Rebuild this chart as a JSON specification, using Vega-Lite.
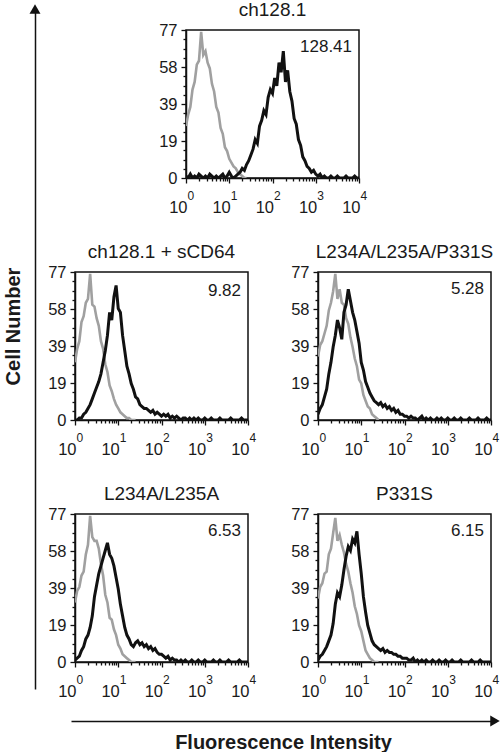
{
"$schema": "https://vega.github.io/schema/vega-lite/v6.json",
"background": "white",
"padding": {"left": 3, "top": 0, "right": 0, "bottom": 0},
"config": {
  "font": "Liberation Sans",
  "view": {"stroke": null},
  "axis": {"domainColor": "#111", "domainWidth": 1.5, "tickColor": "#111", "tickWidth": 1.3, "labelColor": "#1a1a1a", "labelFont": "Liberation Sans", "labelFontSize": 16.5, "grid": false, "titleColor": "#1a1a1a", "titleFont": "Liberation Sans"},
  "title": {"fontSize": 19, "fontWeight": "normal", "color": "#1a1a1a", "offset": 2, "font": "Liberation Sans"},
  "text": {"font": "Liberation Sans", "fontSize": 17, "color": "#1a1a1a"}
},
"datasets": {
"h": [
{"p":"A","s":"g","x":1,"y":27},{"p":"A","s":"g","x":1.122,"y":33},{"p":"A","s":"g","x":1.259,"y":37},{"p":"A","s":"g","x":1.413,"y":46},{"p":"A","s":"g","x":1.585,"y":50},{"p":"A","s":"g","x":1.778,"y":59},{"p":"A","s":"g","x":1.995,"y":61},{"p":"A","s":"g","x":2.239,"y":76},{"p":"A","s":"g","x":2.512,"y":64},{"p":"A","s":"g","x":2.818,"y":66},{"p":"A","s":"g","x":3.162,"y":60},{"p":"A","s":"g","x":3.548,"y":57},{"p":"A","s":"g","x":3.981,"y":49},{"p":"A","s":"g","x":4.467,"y":45},{"p":"A","s":"g","x":5.012,"y":37},{"p":"A","s":"g","x":5.623,"y":34},{"p":"A","s":"g","x":6.31,"y":26},{"p":"A","s":"g","x":7.079,"y":23},{"p":"A","s":"g","x":7.943,"y":16},{"p":"A","s":"g","x":8.913,"y":14},{"p":"A","s":"g","x":10,"y":10},{"p":"A","s":"g","x":11.22,"y":8},{"p":"A","s":"g","x":12.59,"y":6},{"p":"A","s":"g","x":14.13,"y":5},{"p":"A","s":"g","x":15.85,"y":3},{"p":"A","s":"g","x":17.78,"y":2},{"p":"A","s":"g","x":19.95,"y":1},{"p":"A","s":"g","x":22.39,"y":0},{"p":"A","s":"g","x":25.12,"y":0},
{"p":"A","s":"k","x":1,"y":1},{"p":"A","s":"k","x":1.122,"y":0},{"p":"A","s":"k","x":1.259,"y":2},{"p":"A","s":"k","x":1.413,"y":0},{"p":"A","s":"k","x":1.585,"y":1},{"p":"A","s":"k","x":1.778,"y":0},{"p":"A","s":"k","x":1.995,"y":2},{"p":"A","s":"k","x":2.239,"y":1},{"p":"A","s":"k","x":2.512,"y":0},{"p":"A","s":"k","x":2.818,"y":1},{"p":"A","s":"k","x":3.162,"y":0},{"p":"A","s":"k","x":3.548,"y":2},{"p":"A","s":"k","x":3.981,"y":1},{"p":"A","s":"k","x":4.467,"y":0},{"p":"A","s":"k","x":5.012,"y":1},{"p":"A","s":"k","x":5.623,"y":0},{"p":"A","s":"k","x":6.31,"y":1},{"p":"A","s":"k","x":7.079,"y":2},{"p":"A","s":"k","x":7.943,"y":0},{"p":"A","s":"k","x":8.913,"y":1},
{"p":"A","s":"k","x":10,"y":3},{"p":"A","s":"k","x":11.22,"y":1},{"p":"A","s":"k","x":12.59,"y":0},{"p":"A","s":"k","x":14.13,"y":1},{"p":"A","s":"k","x":15.85,"y":2},{"p":"A","s":"k","x":17.78,"y":3},{"p":"A","s":"k","x":19.95,"y":5},{"p":"A","s":"k","x":22.39,"y":4},{"p":"A","s":"k","x":25.12,"y":7},{"p":"A","s":"k","x":28.18,"y":9},{"p":"A","s":"k","x":31.62,"y":12},{"p":"A","s":"k","x":35.48,"y":15},{"p":"A","s":"k","x":39.81,"y":20},{"p":"A","s":"k","x":44.67,"y":18},{"p":"A","s":"k","x":50.12,"y":27},{"p":"A","s":"k","x":56.23,"y":30},{"p":"A","s":"k","x":63.1,"y":35},{"p":"A","s":"k","x":70.79,"y":33},{"p":"A","s":"k","x":79.43,"y":42},{"p":"A","s":"k","x":89.13,"y":46},
{"p":"A","s":"k","x":100,"y":44},{"p":"A","s":"k","x":112.2,"y":52},{"p":"A","s":"k","x":125.9,"y":48},{"p":"A","s":"k","x":141.3,"y":60},{"p":"A","s":"k","x":158.5,"y":55},{"p":"A","s":"k","x":177.8,"y":66},{"p":"A","s":"k","x":199.5,"y":50},{"p":"A","s":"k","x":223.9,"y":56},{"p":"A","s":"k","x":251.2,"y":45},{"p":"A","s":"k","x":281.8,"y":40},{"p":"A","s":"k","x":316.2,"y":31},{"p":"A","s":"k","x":354.8,"y":28},{"p":"A","s":"k","x":398.1,"y":20},{"p":"A","s":"k","x":446.7,"y":17},{"p":"A","s":"k","x":501.2,"y":11},{"p":"A","s":"k","x":562.3,"y":9},{"p":"A","s":"k","x":631,"y":6},{"p":"A","s":"k","x":707.9,"y":5},{"p":"A","s":"k","x":794.3,"y":3},{"p":"A","s":"k","x":891.3,"y":4},
{"p":"A","s":"k","x":1000,"y":2},{"p":"A","s":"k","x":1122,"y":1},{"p":"A","s":"k","x":1259,"y":2},{"p":"A","s":"k","x":1413,"y":0},{"p":"A","s":"k","x":1585,"y":1},{"p":"A","s":"k","x":1778,"y":0},{"p":"A","s":"k","x":1995,"y":0},{"p":"A","s":"k","x":2239,"y":1},{"p":"A","s":"k","x":2512,"y":0},{"p":"A","s":"k","x":2818,"y":0},{"p":"A","s":"k","x":3162,"y":1},{"p":"A","s":"k","x":3548,"y":0},{"p":"A","s":"k","x":3981,"y":0},{"p":"A","s":"k","x":4467,"y":0},{"p":"A","s":"k","x":5012,"y":1},{"p":"A","s":"k","x":5623,"y":0},{"p":"A","s":"k","x":6310,"y":0},{"p":"A","s":"k","x":7079,"y":0},{"p":"A","s":"k","x":7943,"y":1},{"p":"A","s":"k","x":8913,"y":0},{"p":"A","s":"k","x":10000,"y":0},

{"p":"B","s":"g","x":1,"y":30},{"p":"B","s":"g","x":1.122,"y":37},{"p":"B","s":"g","x":1.259,"y":41},{"p":"B","s":"g","x":1.413,"y":51},{"p":"B","s":"g","x":1.585,"y":54},{"p":"B","s":"g","x":1.778,"y":61},{"p":"B","s":"g","x":1.995,"y":63},{"p":"B","s":"g","x":2.239,"y":76},{"p":"B","s":"g","x":2.512,"y":60},{"p":"B","s":"g","x":2.818,"y":59},{"p":"B","s":"g","x":3.162,"y":53},{"p":"B","s":"g","x":3.548,"y":49},{"p":"B","s":"g","x":3.981,"y":41},{"p":"B","s":"g","x":4.467,"y":37},{"p":"B","s":"g","x":5.012,"y":29},{"p":"B","s":"g","x":5.623,"y":25},{"p":"B","s":"g","x":6.31,"y":18},{"p":"B","s":"g","x":7.079,"y":15},{"p":"B","s":"g","x":7.943,"y":11},{"p":"B","s":"g","x":8.913,"y":8},{"p":"B","s":"g","x":10,"y":6},{"p":"B","s":"g","x":11.22,"y":4},{"p":"B","s":"g","x":12.59,"y":3},{"p":"B","s":"g","x":14.13,"y":2},{"p":"B","s":"g","x":15.85,"y":1},{"p":"B","s":"g","x":17.78,"y":1},{"p":"B","s":"g","x":19.95,"y":0},{"p":"B","s":"g","x":22.39,"y":0},{"p":"B","s":"g","x":25.12,"y":0},
{"p":"B","s":"k","x":1,"y":0},{"p":"B","s":"k","x":1.122,"y":0},{"p":"B","s":"k","x":1.259,"y":1},{"p":"B","s":"k","x":1.413,"y":1},{"p":"B","s":"k","x":1.585,"y":3},{"p":"B","s":"k","x":1.778,"y":4},{"p":"B","s":"k","x":1.995,"y":6},{"p":"B","s":"k","x":2.239,"y":8},{"p":"B","s":"k","x":2.512,"y":11},{"p":"B","s":"k","x":2.818,"y":14},{"p":"B","s":"k","x":3.162,"y":17},{"p":"B","s":"k","x":3.548,"y":20},{"p":"B","s":"k","x":3.981,"y":24},{"p":"B","s":"k","x":4.467,"y":30},{"p":"B","s":"k","x":5.012,"y":36},{"p":"B","s":"k","x":5.623,"y":44},{"p":"B","s":"k","x":6.31,"y":56},{"p":"B","s":"k","x":7.079,"y":52},{"p":"B","s":"k","x":7.943,"y":64},{"p":"B","s":"k","x":8.913,"y":70},
{"p":"B","s":"k","x":10,"y":58},{"p":"B","s":"k","x":11.22,"y":56},{"p":"B","s":"k","x":12.59,"y":44},{"p":"B","s":"k","x":14.13,"y":36},{"p":"B","s":"k","x":15.85,"y":28},{"p":"B","s":"k","x":17.78,"y":24},{"p":"B","s":"k","x":19.95,"y":19},{"p":"B","s":"k","x":22.39,"y":16},{"p":"B","s":"k","x":25.12,"y":12},{"p":"B","s":"k","x":28.18,"y":11},{"p":"B","s":"k","x":31.62,"y":8},{"p":"B","s":"k","x":35.48,"y":7},{"p":"B","s":"k","x":39.81,"y":6},{"p":"B","s":"k","x":44.67,"y":6},{"p":"B","s":"k","x":50.12,"y":5},{"p":"B","s":"k","x":56.23,"y":4},{"p":"B","s":"k","x":63.1,"y":5},{"p":"B","s":"k","x":70.79,"y":3},{"p":"B","s":"k","x":79.43,"y":4},{"p":"B","s":"k","x":89.13,"y":3},
{"p":"B","s":"k","x":100,"y":2},{"p":"B","s":"k","x":112.2,"y":3},{"p":"B","s":"k","x":125.9,"y":2},{"p":"B","s":"k","x":141.3,"y":3},{"p":"B","s":"k","x":158.5,"y":1},{"p":"B","s":"k","x":177.8,"y":2},{"p":"B","s":"k","x":199.5,"y":1},{"p":"B","s":"k","x":223.9,"y":2},{"p":"B","s":"k","x":251.2,"y":1},{"p":"B","s":"k","x":281.8,"y":0},{"p":"B","s":"k","x":316.2,"y":1},{"p":"B","s":"k","x":354.8,"y":1},{"p":"B","s":"k","x":398.1,"y":0},{"p":"B","s":"k","x":446.7,"y":1},{"p":"B","s":"k","x":501.2,"y":0},{"p":"B","s":"k","x":562.3,"y":1},{"p":"B","s":"k","x":631,"y":0},{"p":"B","s":"k","x":707.9,"y":1},{"p":"B","s":"k","x":794.3,"y":0},{"p":"B","s":"k","x":891.3,"y":0},
{"p":"B","s":"k","x":1000,"y":1},{"p":"B","s":"k","x":1122,"y":0},{"p":"B","s":"k","x":1259,"y":0},{"p":"B","s":"k","x":1413,"y":1},{"p":"B","s":"k","x":1585,"y":0},{"p":"B","s":"k","x":1778,"y":0},{"p":"B","s":"k","x":1995,"y":0},{"p":"B","s":"k","x":2239,"y":1},{"p":"B","s":"k","x":2512,"y":0},{"p":"B","s":"k","x":2818,"y":0},{"p":"B","s":"k","x":3162,"y":0},{"p":"B","s":"k","x":3548,"y":0},{"p":"B","s":"k","x":3981,"y":1},{"p":"B","s":"k","x":4467,"y":0},{"p":"B","s":"k","x":5012,"y":0},{"p":"B","s":"k","x":5623,"y":0},{"p":"B","s":"k","x":6310,"y":0},{"p":"B","s":"k","x":7079,"y":1},{"p":"B","s":"k","x":7943,"y":0},{"p":"B","s":"k","x":8913,"y":0},{"p":"B","s":"k","x":10000,"y":0},

{"p":"C","s":"g","x":1,"y":33},{"p":"C","s":"g","x":1.122,"y":39},{"p":"C","s":"g","x":1.259,"y":41},{"p":"C","s":"g","x":1.413,"y":45},{"p":"C","s":"g","x":1.585,"y":49},{"p":"C","s":"g","x":1.778,"y":57},{"p":"C","s":"g","x":1.995,"y":61},{"p":"C","s":"g","x":2.239,"y":67},{"p":"C","s":"g","x":2.512,"y":76},{"p":"C","s":"g","x":2.818,"y":63},{"p":"C","s":"g","x":3.162,"y":68},{"p":"C","s":"g","x":3.548,"y":61},{"p":"C","s":"g","x":3.981,"y":60},{"p":"C","s":"g","x":4.467,"y":53},{"p":"C","s":"g","x":5.012,"y":50},{"p":"C","s":"g","x":5.623,"y":43},{"p":"C","s":"g","x":6.31,"y":38},{"p":"C","s":"g","x":7.079,"y":32},{"p":"C","s":"g","x":7.943,"y":28},{"p":"C","s":"g","x":8.913,"y":21},{"p":"C","s":"g","x":10,"y":19},{"p":"C","s":"g","x":11.22,"y":13},{"p":"C","s":"g","x":12.59,"y":10},{"p":"C","s":"g","x":14.13,"y":7},{"p":"C","s":"g","x":15.85,"y":6},{"p":"C","s":"g","x":17.78,"y":3},{"p":"C","s":"g","x":19.95,"y":2},{"p":"C","s":"g","x":22.39,"y":1},{"p":"C","s":"g","x":25.12,"y":0},
{"p":"C","s":"k","x":1,"y":3},{"p":"C","s":"k","x":1.122,"y":6},{"p":"C","s":"k","x":1.259,"y":8},{"p":"C","s":"k","x":1.413,"y":12},{"p":"C","s":"k","x":1.585,"y":16},{"p":"C","s":"k","x":1.778,"y":24},{"p":"C","s":"k","x":1.995,"y":30},{"p":"C","s":"k","x":2.239,"y":38},{"p":"C","s":"k","x":2.512,"y":44},{"p":"C","s":"k","x":2.818,"y":52},{"p":"C","s":"k","x":3.162,"y":48},{"p":"C","s":"k","x":3.548,"y":42},{"p":"C","s":"k","x":3.981,"y":56},{"p":"C","s":"k","x":4.467,"y":60},{"p":"C","s":"k","x":5.012,"y":68},{"p":"C","s":"k","x":5.623,"y":62},{"p":"C","s":"k","x":6.31,"y":56},{"p":"C","s":"k","x":7.079,"y":52},{"p":"C","s":"k","x":7.943,"y":46},{"p":"C","s":"k","x":8.913,"y":40},
{"p":"C","s":"k","x":10,"y":30},{"p":"C","s":"k","x":11.22,"y":26},{"p":"C","s":"k","x":12.59,"y":20},{"p":"C","s":"k","x":14.13,"y":17},{"p":"C","s":"k","x":15.85,"y":14},{"p":"C","s":"k","x":17.78,"y":12},{"p":"C","s":"k","x":19.95,"y":10},{"p":"C","s":"k","x":22.39,"y":9},{"p":"C","s":"k","x":25.12,"y":8},{"p":"C","s":"k","x":28.18,"y":9},{"p":"C","s":"k","x":31.62,"y":7},{"p":"C","s":"k","x":35.48,"y":8},{"p":"C","s":"k","x":39.81,"y":6},{"p":"C","s":"k","x":44.67,"y":7},{"p":"C","s":"k","x":50.12,"y":5},{"p":"C","s":"k","x":56.23,"y":6},{"p":"C","s":"k","x":63.1,"y":4},{"p":"C","s":"k","x":70.79,"y":5},{"p":"C","s":"k","x":79.43,"y":3},{"p":"C","s":"k","x":89.13,"y":3},
{"p":"C","s":"k","x":100,"y":2},{"p":"C","s":"k","x":112.2,"y":2},{"p":"C","s":"k","x":125.9,"y":1},{"p":"C","s":"k","x":141.3,"y":2},{"p":"C","s":"k","x":158.5,"y":1},{"p":"C","s":"k","x":177.8,"y":1},{"p":"C","s":"k","x":199.5,"y":0},{"p":"C","s":"k","x":223.9,"y":1},{"p":"C","s":"k","x":251.2,"y":2},{"p":"C","s":"k","x":281.8,"y":0},{"p":"C","s":"k","x":316.2,"y":1},{"p":"C","s":"k","x":354.8,"y":0},{"p":"C","s":"k","x":398.1,"y":1},{"p":"C","s":"k","x":446.7,"y":0},{"p":"C","s":"k","x":501.2,"y":0},{"p":"C","s":"k","x":562.3,"y":1},{"p":"C","s":"k","x":631,"y":0},{"p":"C","s":"k","x":707.9,"y":1},{"p":"C","s":"k","x":794.3,"y":0},{"p":"C","s":"k","x":891.3,"y":0},
{"p":"C","s":"k","x":1000,"y":1},{"p":"C","s":"k","x":1122,"y":0},{"p":"C","s":"k","x":1259,"y":0},{"p":"C","s":"k","x":1413,"y":1},{"p":"C","s":"k","x":1585,"y":0},{"p":"C","s":"k","x":1778,"y":0},{"p":"C","s":"k","x":1995,"y":1},{"p":"C","s":"k","x":2239,"y":0},{"p":"C","s":"k","x":2512,"y":0},{"p":"C","s":"k","x":2818,"y":0},{"p":"C","s":"k","x":3162,"y":1},{"p":"C","s":"k","x":3548,"y":0},{"p":"C","s":"k","x":3981,"y":0},{"p":"C","s":"k","x":4467,"y":0},{"p":"C","s":"k","x":5012,"y":1},{"p":"C","s":"k","x":5623,"y":0},{"p":"C","s":"k","x":6310,"y":0},{"p":"C","s":"k","x":7079,"y":0},{"p":"C","s":"k","x":7943,"y":1},{"p":"C","s":"k","x":8913,"y":0},{"p":"C","s":"k","x":10000,"y":0},

{"p":"D","s":"g","x":1,"y":31},{"p":"D","s":"g","x":1.122,"y":37},{"p":"D","s":"g","x":1.259,"y":39},{"p":"D","s":"g","x":1.413,"y":45},{"p":"D","s":"g","x":1.585,"y":47},{"p":"D","s":"g","x":1.778,"y":56},{"p":"D","s":"g","x":1.995,"y":61},{"p":"D","s":"g","x":2.239,"y":76},{"p":"D","s":"g","x":2.512,"y":65},{"p":"D","s":"g","x":2.818,"y":63},{"p":"D","s":"g","x":3.162,"y":63},{"p":"D","s":"g","x":3.548,"y":59},{"p":"D","s":"g","x":3.981,"y":51},{"p":"D","s":"g","x":4.467,"y":45},{"p":"D","s":"g","x":5.012,"y":35},{"p":"D","s":"g","x":5.623,"y":31},{"p":"D","s":"g","x":6.31,"y":23},{"p":"D","s":"g","x":7.079,"y":22},{"p":"D","s":"g","x":7.943,"y":17},{"p":"D","s":"g","x":8.913,"y":14},{"p":"D","s":"g","x":10,"y":9},{"p":"D","s":"g","x":11.22,"y":7},{"p":"D","s":"g","x":12.59,"y":4},{"p":"D","s":"g","x":14.13,"y":3},{"p":"D","s":"g","x":15.85,"y":2},{"p":"D","s":"g","x":17.78,"y":1},{"p":"D","s":"g","x":19.95,"y":0},{"p":"D","s":"g","x":22.39,"y":0},{"p":"D","s":"g","x":25.12,"y":0},
{"p":"D","s":"k","x":1,"y":1},{"p":"D","s":"k","x":1.122,"y":2},{"p":"D","s":"k","x":1.259,"y":3},{"p":"D","s":"k","x":1.413,"y":6},{"p":"D","s":"k","x":1.585,"y":8},{"p":"D","s":"k","x":1.778,"y":12},{"p":"D","s":"k","x":1.995,"y":14},{"p":"D","s":"k","x":2.239,"y":18},{"p":"D","s":"k","x":2.512,"y":24},{"p":"D","s":"k","x":2.818,"y":34},{"p":"D","s":"k","x":3.162,"y":40},{"p":"D","s":"k","x":3.548,"y":46},{"p":"D","s":"k","x":3.981,"y":50},{"p":"D","s":"k","x":4.467,"y":54},{"p":"D","s":"k","x":5.012,"y":58},{"p":"D","s":"k","x":5.623,"y":62},{"p":"D","s":"k","x":6.31,"y":56},{"p":"D","s":"k","x":7.079,"y":54},{"p":"D","s":"k","x":7.943,"y":50},{"p":"D","s":"k","x":8.913,"y":44},
{"p":"D","s":"k","x":10,"y":38},{"p":"D","s":"k","x":11.22,"y":30},{"p":"D","s":"k","x":12.59,"y":24},{"p":"D","s":"k","x":14.13,"y":18},{"p":"D","s":"k","x":15.85,"y":14},{"p":"D","s":"k","x":17.78,"y":12},{"p":"D","s":"k","x":19.95,"y":9},{"p":"D","s":"k","x":22.39,"y":8},{"p":"D","s":"k","x":25.12,"y":10},{"p":"D","s":"k","x":28.18,"y":11},{"p":"D","s":"k","x":31.62,"y":9},{"p":"D","s":"k","x":35.48,"y":10},{"p":"D","s":"k","x":39.81,"y":8},{"p":"D","s":"k","x":44.67,"y":9},{"p":"D","s":"k","x":50.12,"y":7},{"p":"D","s":"k","x":56.23,"y":8},{"p":"D","s":"k","x":63.1,"y":6},{"p":"D","s":"k","x":70.79,"y":7},{"p":"D","s":"k","x":79.43,"y":5},{"p":"D","s":"k","x":89.13,"y":4},
{"p":"D","s":"k","x":100,"y":4},{"p":"D","s":"k","x":112.2,"y":3},{"p":"D","s":"k","x":125.9,"y":2},{"p":"D","s":"k","x":141.3,"y":3},{"p":"D","s":"k","x":158.5,"y":1},{"p":"D","s":"k","x":177.8,"y":2},{"p":"D","s":"k","x":199.5,"y":1},{"p":"D","s":"k","x":223.9,"y":1},{"p":"D","s":"k","x":251.2,"y":0},{"p":"D","s":"k","x":281.8,"y":1},{"p":"D","s":"k","x":316.2,"y":0},{"p":"D","s":"k","x":354.8,"y":1},{"p":"D","s":"k","x":398.1,"y":0},{"p":"D","s":"k","x":446.7,"y":0},{"p":"D","s":"k","x":501.2,"y":1},{"p":"D","s":"k","x":562.3,"y":0},{"p":"D","s":"k","x":631,"y":0},{"p":"D","s":"k","x":707.9,"y":1},{"p":"D","s":"k","x":794.3,"y":0},{"p":"D","s":"k","x":891.3,"y":0},
{"p":"D","s":"k","x":1000,"y":1},{"p":"D","s":"k","x":1122,"y":0},{"p":"D","s":"k","x":1259,"y":0},{"p":"D","s":"k","x":1413,"y":0},{"p":"D","s":"k","x":1585,"y":1},{"p":"D","s":"k","x":1778,"y":0},{"p":"D","s":"k","x":1995,"y":0},{"p":"D","s":"k","x":2239,"y":1},{"p":"D","s":"k","x":2512,"y":0},{"p":"D","s":"k","x":2818,"y":0},{"p":"D","s":"k","x":3162,"y":0},{"p":"D","s":"k","x":3548,"y":1},{"p":"D","s":"k","x":3981,"y":0},{"p":"D","s":"k","x":4467,"y":0},{"p":"D","s":"k","x":5012,"y":0},{"p":"D","s":"k","x":5623,"y":0},{"p":"D","s":"k","x":6310,"y":1},{"p":"D","s":"k","x":7079,"y":0},{"p":"D","s":"k","x":7943,"y":0},{"p":"D","s":"k","x":8913,"y":0},{"p":"D","s":"k","x":10000,"y":0},

{"p":"E","s":"g","x":1,"y":33},{"p":"E","s":"g","x":1.122,"y":39},{"p":"E","s":"g","x":1.259,"y":41},{"p":"E","s":"g","x":1.413,"y":46},{"p":"E","s":"g","x":1.585,"y":47},{"p":"E","s":"g","x":1.778,"y":56},{"p":"E","s":"g","x":1.995,"y":59},{"p":"E","s":"g","x":2.239,"y":67},{"p":"E","s":"g","x":2.512,"y":75},{"p":"E","s":"g","x":2.818,"y":63},{"p":"E","s":"g","x":3.162,"y":66},{"p":"E","s":"g","x":3.548,"y":61},{"p":"E","s":"g","x":3.981,"y":57},{"p":"E","s":"g","x":4.467,"y":51},{"p":"E","s":"g","x":5.012,"y":47},{"p":"E","s":"g","x":5.623,"y":41},{"p":"E","s":"g","x":6.31,"y":36},{"p":"E","s":"g","x":7.079,"y":29},{"p":"E","s":"g","x":7.943,"y":25},{"p":"E","s":"g","x":8.913,"y":19},{"p":"E","s":"g","x":10,"y":16},{"p":"E","s":"g","x":11.22,"y":11},{"p":"E","s":"g","x":12.59,"y":6},{"p":"E","s":"g","x":14.13,"y":4},{"p":"E","s":"g","x":15.85,"y":2},{"p":"E","s":"g","x":17.78,"y":1},{"p":"E","s":"g","x":19.95,"y":0},{"p":"E","s":"g","x":22.39,"y":0},{"p":"E","s":"g","x":25.12,"y":0},
{"p":"E","s":"k","x":1,"y":1},{"p":"E","s":"k","x":1.122,"y":3},{"p":"E","s":"k","x":1.259,"y":4},{"p":"E","s":"k","x":1.413,"y":6},{"p":"E","s":"k","x":1.585,"y":8},{"p":"E","s":"k","x":1.778,"y":11},{"p":"E","s":"k","x":1.995,"y":14},{"p":"E","s":"k","x":2.239,"y":20},{"p":"E","s":"k","x":2.512,"y":30},{"p":"E","s":"k","x":2.818,"y":36},{"p":"E","s":"k","x":3.162,"y":34},{"p":"E","s":"k","x":3.548,"y":40},{"p":"E","s":"k","x":3.981,"y":48},{"p":"E","s":"k","x":4.467,"y":55},{"p":"E","s":"k","x":5.012,"y":60},{"p":"E","s":"k","x":5.623,"y":58},{"p":"E","s":"k","x":6.31,"y":64},{"p":"E","s":"k","x":7.079,"y":62},{"p":"E","s":"k","x":7.943,"y":68},{"p":"E","s":"k","x":8.913,"y":56},
{"p":"E","s":"k","x":10,"y":46},{"p":"E","s":"k","x":11.22,"y":34},{"p":"E","s":"k","x":12.59,"y":26},{"p":"E","s":"k","x":14.13,"y":19},{"p":"E","s":"k","x":15.85,"y":15},{"p":"E","s":"k","x":17.78,"y":11},{"p":"E","s":"k","x":19.95,"y":9},{"p":"E","s":"k","x":22.39,"y":8},{"p":"E","s":"k","x":25.12,"y":7},{"p":"E","s":"k","x":28.18,"y":6},{"p":"E","s":"k","x":31.62,"y":7},{"p":"E","s":"k","x":35.48,"y":5},{"p":"E","s":"k","x":39.81,"y":6},{"p":"E","s":"k","x":44.67,"y":5},{"p":"E","s":"k","x":50.12,"y":5},{"p":"E","s":"k","x":56.23,"y":4},{"p":"E","s":"k","x":63.1,"y":4},{"p":"E","s":"k","x":70.79,"y":3},{"p":"E","s":"k","x":79.43,"y":3},{"p":"E","s":"k","x":89.13,"y":2},
{"p":"E","s":"k","x":100,"y":2},{"p":"E","s":"k","x":112.2,"y":2},{"p":"E","s":"k","x":125.9,"y":1},{"p":"E","s":"k","x":141.3,"y":1},{"p":"E","s":"k","x":158.5,"y":2},{"p":"E","s":"k","x":177.8,"y":0},{"p":"E","s":"k","x":199.5,"y":1},{"p":"E","s":"k","x":223.9,"y":0},{"p":"E","s":"k","x":251.2,"y":1},{"p":"E","s":"k","x":281.8,"y":0},{"p":"E","s":"k","x":316.2,"y":1},{"p":"E","s":"k","x":354.8,"y":0},{"p":"E","s":"k","x":398.1,"y":0},{"p":"E","s":"k","x":446.7,"y":1},{"p":"E","s":"k","x":501.2,"y":0},{"p":"E","s":"k","x":562.3,"y":0},{"p":"E","s":"k","x":631,"y":1},{"p":"E","s":"k","x":707.9,"y":0},{"p":"E","s":"k","x":794.3,"y":0},{"p":"E","s":"k","x":891.3,"y":1},
{"p":"E","s":"k","x":1000,"y":0},{"p":"E","s":"k","x":1122,"y":0},{"p":"E","s":"k","x":1259,"y":1},{"p":"E","s":"k","x":1413,"y":0},{"p":"E","s":"k","x":1585,"y":0},{"p":"E","s":"k","x":1778,"y":0},{"p":"E","s":"k","x":1995,"y":1},{"p":"E","s":"k","x":2239,"y":0},{"p":"E","s":"k","x":2512,"y":0},{"p":"E","s":"k","x":2818,"y":0},{"p":"E","s":"k","x":3162,"y":0},{"p":"E","s":"k","x":3548,"y":1},{"p":"E","s":"k","x":3981,"y":0},{"p":"E","s":"k","x":4467,"y":0},{"p":"E","s":"k","x":5012,"y":0},{"p":"E","s":"k","x":5623,"y":1},{"p":"E","s":"k","x":6310,"y":0},{"p":"E","s":"k","x":7079,"y":0},{"p":"E","s":"k","x":7943,"y":0},{"p":"E","s":"k","x":8913,"y":0},{"p":"E","s":"k","x":10000,"y":0}
]
},
"bounds": "full",
"spacing": 1,
"hconcat": [
{
  "width": 10, "height": 659,
  "data": {"values": [{"ax": 0, "ay": 1}]},
  "mark": {"type": "point", "shape": "triangle-up", "filled": true, "color": "#111", "size": 120, "opacity": 1},
  "encoding": {
    "x": {"field": "ax", "type": "quantitative", "scale": {"domain": [0, 1]}, "axis": null},
    "y": {"field": "ay", "type": "quantitative", "scale": {"domain": [0, 1], "range": [659, -21]}, "axis": {"title": "Cell Number", "titleFontSize": 20, "titleFontWeight": "bold", "labels": false, "ticks": false, "titlePadding": 12, "titleY": 296}}
  }
},
{
  "bounds": "full",
  "spacing": 14,
  "vconcat": [
  {
    "bounds": "full",
    "spacing": 25,
    "vconcat": [
    {
      "bounds": "full", "spacing": 32,
      "hconcat": [
        {"width": 50, "height": 187, "data": {"values": [{}]}, "mark": {"type": "rect", "opacity": 0}, "encoding": {}},
        {
          "title": "ch128.1", "width": 173, "height": 148,
          "view": {"stroke": "#111", "strokeWidth": 1.5},
          "data": {"name": "h"},
          "resolve": {"axis": {"x": "independent", "y": "independent"}},
          "layer": [
            {"transform": [{"filter": "datum.p == 'A' && datum.s == 'g'"}],
             "mark": {"type": "line", "color": "#a0a0a0", "strokeWidth": 2.6, "clip": true},
             "encoding": {
               "x": {"field": "x", "type": "quantitative", "title": null, "scale": {"type": "log", "domain": [1, 10000], "nice": false},
                 "axis": {"title": null, "values": [1,2,3,4,5,6,7,8,9,10,20,30,40,50,60,70,80,90,100,200,300,400,500,600,700,800,900,1000,2000,3000,4000,5000,6000,7000,8000,9000,10000], "labelExpr": "(datum.value == 1 || datum.value == 10 || datum.value == 100 || datum.value == 1000 || datum.value == 10000) ? '10' : ''", "tickSize": {"condition": {"test": "datum.value == 1 || datum.value == 10 || datum.value == 100 || datum.value == 1000 || datum.value == 10000", "value": 5}, "value": 3}, "labelAlign": "right", "labelBaseline": "alphabetic", "labelPadding": 29, "labelOffset": 1, "labelFlush": false, "labelOverlap": false}},
               "y": {"field": "y", "type": "quantitative", "title": null, "scale": {"domain": [0, 77], "nice": false},
                 "axis": {"title": null, "values": [0, 19.25, 38.5, 57.75, 77], "format": ".0f", "tickSize": 5, "labelPadding": 4, "labelOverlap": false, "labelFlush": false}}
             }},
            {"transform": [{"filter": "datum.p == 'A' && datum.s == 'k'"}],
             "mark": {"type": "line", "color": "#111", "strokeWidth": 3, "clip": true},
             "encoding": {
               "x": {"field": "x", "type": "quantitative", "title": null,
                 "axis": {"title": null, "orient": "bottom", "values": [1,10,100,1000,10000], "labelExpr": "datum.value == 1 ? '0' : datum.value == 10 ? '1' : datum.value == 100 ? '2' : datum.value == 1000 ? '3' : '4'", "ticks": false, "tickSize": 0, "domain": false, "labelAlign": "left", "labelBaseline": "alphabetic", "labelPadding": 21, "labelOffset": 1, "labelFontSize": 12, "labelFlush": false, "labelOverlap": false}},
               "y": {"field": "y", "type": "quantitative", "title": null,
                 "axis": {"title": null, "orient": "left", "values": [4.8125,9.625,14.4375,24.0625,28.875,33.6875,43.3125,48.125,52.9375,62.5625,67.375,72.1875], "labels": false, "tickSize": 3, "domain": false}}
             }},
            {"data": {"values": [{"v": "128.41"}]},
             "mark": {"type": "text", "align": "right", "baseline": "middle"},
             "encoding": {"x": {"datum": 6900, "type": "quantitative", "axis": null}, "y": {"datum": 68, "type": "quantitative", "axis": null}, "text": {"field": "v"}}}
          ]
        }
      ]
    },
    {
      "bounds": "full", "spacing": 32,
      "hconcat": [
        {
          "title": "ch128.1 + sCD64", "width": 173, "height": 148,
          "view": {"stroke": "#111", "strokeWidth": 1.5},
          "data": {"name": "h"},
          "resolve": {"axis": {"x": "independent", "y": "independent"}},
          "layer": [
            {"transform": [{"filter": "datum.p == 'B' && datum.s == 'g'"}],
             "mark": {"type": "line", "color": "#a0a0a0", "strokeWidth": 2.6, "clip": true},
             "encoding": {
               "x": {"field": "x", "type": "quantitative", "title": null, "scale": {"type": "log", "domain": [1, 10000], "nice": false},
                 "axis": {"title": null, "values": [1,2,3,4,5,6,7,8,9,10,20,30,40,50,60,70,80,90,100,200,300,400,500,600,700,800,900,1000,2000,3000,4000,5000,6000,7000,8000,9000,10000], "labelExpr": "(datum.value == 1 || datum.value == 10 || datum.value == 100 || datum.value == 1000 || datum.value == 10000) ? '10' : ''", "tickSize": {"condition": {"test": "datum.value == 1 || datum.value == 10 || datum.value == 100 || datum.value == 1000 || datum.value == 10000", "value": 5}, "value": 3}, "labelAlign": "right", "labelBaseline": "alphabetic", "labelPadding": 29, "labelOffset": 1, "labelFlush": false, "labelOverlap": false}},
               "y": {"field": "y", "type": "quantitative", "title": null, "scale": {"domain": [0, 77], "nice": false},
                 "axis": {"title": null, "values": [0, 19.25, 38.5, 57.75, 77], "format": ".0f", "tickSize": 5, "labelPadding": 4, "labelOverlap": false, "labelFlush": false}}
             }},
            {"transform": [{"filter": "datum.p == 'B' && datum.s == 'k'"}],
             "mark": {"type": "line", "color": "#111", "strokeWidth": 3, "clip": true},
             "encoding": {
               "x": {"field": "x", "type": "quantitative", "title": null,
                 "axis": {"title": null, "orient": "bottom", "values": [1,10,100,1000,10000], "labelExpr": "datum.value == 1 ? '0' : datum.value == 10 ? '1' : datum.value == 100 ? '2' : datum.value == 1000 ? '3' : '4'", "ticks": false, "tickSize": 0, "domain": false, "labelAlign": "left", "labelBaseline": "alphabetic", "labelPadding": 21, "labelOffset": 1, "labelFontSize": 12, "labelFlush": false, "labelOverlap": false}},
               "y": {"field": "y", "type": "quantitative", "title": null,
                 "axis": {"title": null, "orient": "left", "values": [4.8125,9.625,14.4375,24.0625,28.875,33.6875,43.3125,48.125,52.9375,62.5625,67.375,72.1875], "labels": false, "tickSize": 3, "domain": false}}
             }},
            {"data": {"values": [{"v": "9.82"}]},
             "mark": {"type": "text", "align": "right", "baseline": "middle"},
             "encoding": {"x": {"datum": 6900, "type": "quantitative", "axis": null}, "y": {"datum": 67, "type": "quantitative", "axis": null}, "text": {"field": "v"}}}
          ]
        },
        {
          "title": "L234A/L235A/P331S", "width": 173, "height": 148,
          "view": {"stroke": "#111", "strokeWidth": 1.5},
          "data": {"name": "h"},
          "resolve": {"axis": {"x": "independent", "y": "independent"}},
          "layer": [
            {"transform": [{"filter": "datum.p == 'C' && datum.s == 'g'"}],
             "mark": {"type": "line", "color": "#a0a0a0", "strokeWidth": 2.6, "clip": true},
             "encoding": {
               "x": {"field": "x", "type": "quantitative", "title": null, "scale": {"type": "log", "domain": [1, 10000], "nice": false},
                 "axis": {"title": null, "values": [1,2,3,4,5,6,7,8,9,10,20,30,40,50,60,70,80,90,100,200,300,400,500,600,700,800,900,1000,2000,3000,4000,5000,6000,7000,8000,9000,10000], "labelExpr": "(datum.value == 1 || datum.value == 10 || datum.value == 100 || datum.value == 1000 || datum.value == 10000) ? '10' : ''", "tickSize": {"condition": {"test": "datum.value == 1 || datum.value == 10 || datum.value == 100 || datum.value == 1000 || datum.value == 10000", "value": 5}, "value": 3}, "labelAlign": "right", "labelBaseline": "alphabetic", "labelPadding": 29, "labelOffset": 1, "labelFlush": false, "labelOverlap": false}},
               "y": {"field": "y", "type": "quantitative", "title": null, "scale": {"domain": [0, 77], "nice": false},
                 "axis": {"title": null, "values": [0, 19.25, 38.5, 57.75, 77], "format": ".0f", "tickSize": 5, "labelPadding": 4, "labelOverlap": false, "labelFlush": false}}
             }},
            {"transform": [{"filter": "datum.p == 'C' && datum.s == 'k'"}],
             "mark": {"type": "line", "color": "#111", "strokeWidth": 3, "clip": true},
             "encoding": {
               "x": {"field": "x", "type": "quantitative", "title": null,
                 "axis": {"title": null, "orient": "bottom", "values": [1,10,100,1000,10000], "labelExpr": "datum.value == 1 ? '0' : datum.value == 10 ? '1' : datum.value == 100 ? '2' : datum.value == 1000 ? '3' : '4'", "ticks": false, "tickSize": 0, "domain": false, "labelAlign": "left", "labelBaseline": "alphabetic", "labelPadding": 21, "labelOffset": 1, "labelFontSize": 12, "labelFlush": false, "labelOverlap": false}},
               "y": {"field": "y", "type": "quantitative", "title": null,
                 "axis": {"title": null, "orient": "left", "values": [4.8125,9.625,14.4375,24.0625,28.875,33.6875,43.3125,48.125,52.9375,62.5625,67.375,72.1875], "labels": false, "tickSize": 3, "domain": false}}
             }},
            {"data": {"values": [{"v": "5.28"}]},
             "mark": {"type": "text", "align": "right", "baseline": "middle"},
             "encoding": {"x": {"datum": 6900, "type": "quantitative", "axis": null}, "y": {"datum": 68, "type": "quantitative", "axis": null}, "text": {"field": "v"}}}
          ]
        }
      ]
    },
    {
      "bounds": "full", "spacing": 32,
      "hconcat": [
        {
          "title": "L234A/L235A", "width": 173, "height": 148,
          "view": {"stroke": "#111", "strokeWidth": 1.5},
          "data": {"name": "h"},
          "resolve": {"axis": {"x": "independent", "y": "independent"}},
          "layer": [
            {"transform": [{"filter": "datum.p == 'D' && datum.s == 'g'"}],
             "mark": {"type": "line", "color": "#a0a0a0", "strokeWidth": 2.6, "clip": true},
             "encoding": {
               "x": {"field": "x", "type": "quantitative", "title": null, "scale": {"type": "log", "domain": [1, 10000], "nice": false},
                 "axis": {"title": null, "values": [1,2,3,4,5,6,7,8,9,10,20,30,40,50,60,70,80,90,100,200,300,400,500,600,700,800,900,1000,2000,3000,4000,5000,6000,7000,8000,9000,10000], "labelExpr": "(datum.value == 1 || datum.value == 10 || datum.value == 100 || datum.value == 1000 || datum.value == 10000) ? '10' : ''", "tickSize": {"condition": {"test": "datum.value == 1 || datum.value == 10 || datum.value == 100 || datum.value == 1000 || datum.value == 10000", "value": 5}, "value": 3}, "labelAlign": "right", "labelBaseline": "alphabetic", "labelPadding": 29, "labelOffset": 1, "labelFlush": false, "labelOverlap": false}},
               "y": {"field": "y", "type": "quantitative", "title": null, "scale": {"domain": [0, 77], "nice": false},
                 "axis": {"title": null, "values": [0, 19.25, 38.5, 57.75, 77], "format": ".0f", "tickSize": 5, "labelPadding": 4, "labelOverlap": false, "labelFlush": false}}
             }},
            {"transform": [{"filter": "datum.p == 'D' && datum.s == 'k'"}],
             "mark": {"type": "line", "color": "#111", "strokeWidth": 3, "clip": true},
             "encoding": {
               "x": {"field": "x", "type": "quantitative", "title": null,
                 "axis": {"title": null, "orient": "bottom", "values": [1,10,100,1000,10000], "labelExpr": "datum.value == 1 ? '0' : datum.value == 10 ? '1' : datum.value == 100 ? '2' : datum.value == 1000 ? '3' : '4'", "ticks": false, "tickSize": 0, "domain": false, "labelAlign": "left", "labelBaseline": "alphabetic", "labelPadding": 21, "labelOffset": 1, "labelFontSize": 12, "labelFlush": false, "labelOverlap": false}},
               "y": {"field": "y", "type": "quantitative", "title": null,
                 "axis": {"title": null, "orient": "left", "values": [4.8125,9.625,14.4375,24.0625,28.875,33.6875,43.3125,48.125,52.9375,62.5625,67.375,72.1875], "labels": false, "tickSize": 3, "domain": false}}
             }},
            {"data": {"values": [{"v": "6.53"}]},
             "mark": {"type": "text", "align": "right", "baseline": "middle"},
             "encoding": {"x": {"datum": 6900, "type": "quantitative", "axis": null}, "y": {"datum": 68, "type": "quantitative", "axis": null}, "text": {"field": "v"}}}
          ]
        },
        {
          "title": "P331S", "width": 173, "height": 148,
          "view": {"stroke": "#111", "strokeWidth": 1.5},
          "data": {"name": "h"},
          "resolve": {"axis": {"x": "independent", "y": "independent"}},
          "layer": [
            {"transform": [{"filter": "datum.p == 'E' && datum.s == 'g'"}],
             "mark": {"type": "line", "color": "#a0a0a0", "strokeWidth": 2.6, "clip": true},
             "encoding": {
               "x": {"field": "x", "type": "quantitative", "title": null, "scale": {"type": "log", "domain": [1, 10000], "nice": false},
                 "axis": {"title": null, "values": [1,2,3,4,5,6,7,8,9,10,20,30,40,50,60,70,80,90,100,200,300,400,500,600,700,800,900,1000,2000,3000,4000,5000,6000,7000,8000,9000,10000], "labelExpr": "(datum.value == 1 || datum.value == 10 || datum.value == 100 || datum.value == 1000 || datum.value == 10000) ? '10' : ''", "tickSize": {"condition": {"test": "datum.value == 1 || datum.value == 10 || datum.value == 100 || datum.value == 1000 || datum.value == 10000", "value": 5}, "value": 3}, "labelAlign": "right", "labelBaseline": "alphabetic", "labelPadding": 29, "labelOffset": 1, "labelFlush": false, "labelOverlap": false}},
               "y": {"field": "y", "type": "quantitative", "title": null, "scale": {"domain": [0, 77], "nice": false},
                 "axis": {"title": null, "values": [0, 19.25, 38.5, 57.75, 77], "format": ".0f", "tickSize": 5, "labelPadding": 4, "labelOverlap": false, "labelFlush": false}}
             }},
            {"transform": [{"filter": "datum.p == 'E' && datum.s == 'k'"}],
             "mark": {"type": "line", "color": "#111", "strokeWidth": 3, "clip": true},
             "encoding": {
               "x": {"field": "x", "type": "quantitative", "title": null,
                 "axis": {"title": null, "orient": "bottom", "values": [1,10,100,1000,10000], "labelExpr": "datum.value == 1 ? '0' : datum.value == 10 ? '1' : datum.value == 100 ? '2' : datum.value == 1000 ? '3' : '4'", "ticks": false, "tickSize": 0, "domain": false, "labelAlign": "left", "labelBaseline": "alphabetic", "labelPadding": 21, "labelOffset": 1, "labelFontSize": 12, "labelFlush": false, "labelOverlap": false}},
               "y": {"field": "y", "type": "quantitative", "title": null,
                 "axis": {"title": null, "orient": "left", "values": [4.8125,9.625,14.4375,24.0625,28.875,33.6875,43.3125,48.125,52.9375,62.5625,67.375,72.1875], "labels": false, "tickSize": 3, "domain": false}}
             }},
            {"data": {"values": [{"v": "6.15"}]},
             "mark": {"type": "text", "align": "right", "baseline": "middle"},
             "encoding": {"x": {"datum": 6900, "type": "quantitative", "axis": null}, "y": {"datum": 68, "type": "quantitative", "axis": null}, "text": {"field": "v"}}}
          ]
        }
      ]
    }
    ]
  },
  {
    "width": 420, "height": 6,
    "data": {"values": [{"ax": 1, "ay": 0}]},
    "mark": {"type": "point", "shape": "triangle-right", "filled": true, "color": "#111", "size": 120, "opacity": 1},
    "encoding": {
      "x": {"field": "ax", "type": "quantitative", "scale": {"domain": [0, 1], "range": [-4, 420]}, "axis": {"title": "Fluorescence Intensity", "titleFontSize": 20, "titleFontWeight": "bold", "labels": false, "ticks": false, "titlePadding": 11}},
      "y": {"field": "ay", "type": "quantitative", "scale": {"domain": [0, 1]}, "axis": null}
    }
  }
  ]
}
]
}
